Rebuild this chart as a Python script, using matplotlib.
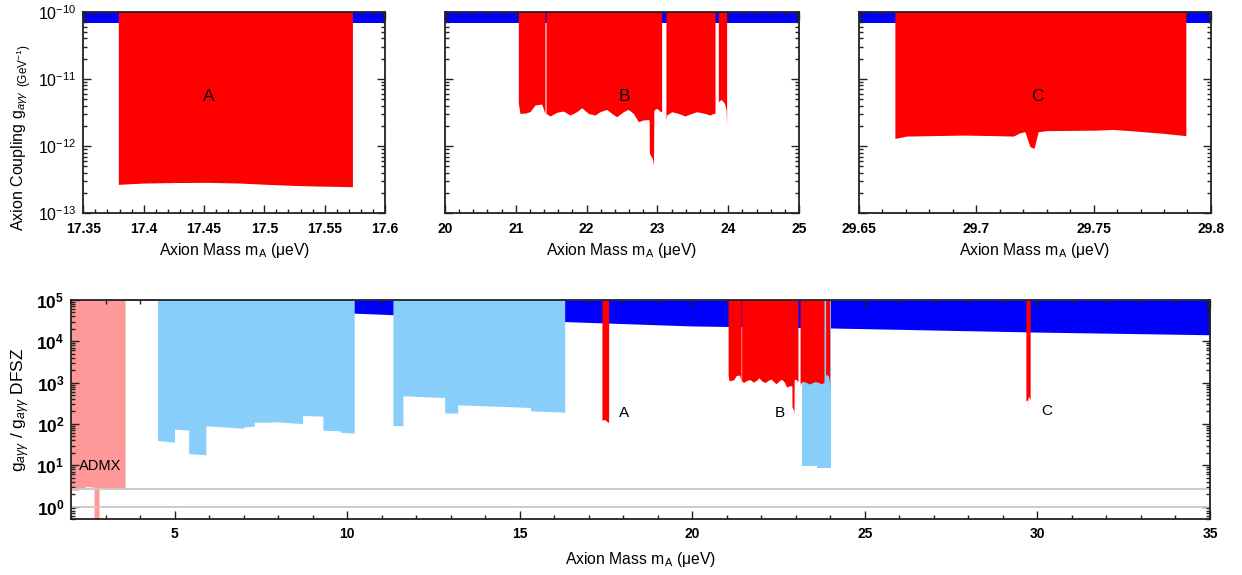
import numpy as np
import matplotlib
matplotlib.use("Agg")
import matplotlib.pyplot as plt
from matplotlib.ticker import MultipleLocator, LogLocator, NullFormatter, FuncFormatter

plt.rcParams['font.family'] = ['Liberation Sans', 'DejaVu Sans']
plt.rcParams['mathtext.fontset'] = 'custom'
plt.rcParams['mathtext.rm'] = 'Liberation Sans'
plt.rcParams['mathtext.it'] = 'Liberation Sans:italic'
plt.rcParams['mathtext.bf'] = 'Liberation Sans:bold'

## Daten

# Ausschluss A (g in GeV^-1)
a_mass = [17.379, 17.40, 17.425, 17.452, 17.48, 17.502, 17.525, 17.543, 17.573]
a_lower = [2.70e-13, 2.82e-13, 2.87e-13, 2.89e-13, 2.82e-13, 2.70e-13, 2.60e-13, 2.55e-13, 2.49e-13]

# Ausschluss B, vier Teilstuecke
b1_mass = [21.036, 21.059, 21.13, 21.20, 21.271, 21.365, 21.412]
b1_lower = [4.33e-12, 3.07e-12, 3.10e-12, 3.25e-12, 4.09e-12, 4.23e-12, 3.07e-12]
b2_mass = [21.427, 21.483, 21.577, 21.671, 21.766, 21.860, 21.930, 22.024, 22.119, 22.189,
           22.283, 22.354, 22.425, 22.519, 22.589, 22.660, 22.731, 22.801, 22.872, 22.884,
           22.887, 22.930, 22.945, 22.950, 22.990, 23.046, 23.060]
b2_lower = [3.07e-12, 2.81e-12, 3.18e-12, 3.33e-12, 2.90e-12, 3.25e-12, 3.73e-12, 3.07e-12, 2.90e-12, 3.25e-12,
            3.52e-12, 3.07e-12, 2.74e-12, 3.25e-12, 3.52e-12, 3.07e-12, 2.31e-12, 2.45e-12, 2.50e-12, 2.40e-12,
            7.8e-13, 6.5e-13, 5.2e-13, 3.44e-12, 3.65e-12, 3.25e-12, 3.25e-12]
b3_mass = [23.121, 23.131, 23.202, 23.296, 23.390, 23.484, 23.555, 23.672, 23.743, 23.790, 23.814]
b3_lower = [2.45e-12, 2.90e-12, 3.25e-12, 3.07e-12, 2.81e-12, 3.07e-12, 3.25e-12, 3.07e-12, 2.90e-12, 3.07e-12, 3.07e-12]
b4_mass = [23.861, 23.90, 23.945, 23.970, 23.978]
b4_lower = [4.58e-12, 4.97e-12, 4.40e-12, 3.50e-12, 2.18e-12]

# Ausschluss C
c_mass = [29.6653, 29.6703, 29.6803, 29.6945, 29.7087, 29.7158, 29.7186, 29.7207, 29.7229,
          29.7246, 29.7264, 29.7300, 29.7371, 29.7513, 29.7584, 29.7655, 29.7797, 29.7893]
c_lower = [1.30e-12, 1.41e-12, 1.43e-12, 1.46e-12, 1.43e-12, 1.41e-12, 1.58e-12, 1.64e-12, 9.8e-13,
           9.25e-13, 1.64e-12, 1.70e-12, 1.71e-12, 1.73e-12, 1.77e-12, 1.70e-12, 1.55e-12, 1.43e-12]

# CAST-Grenze (blau)
cast_limit = 6.7e-11
cast_mass = [2.0, 5.0, 10.2, 16.3, 20.0, 24.0, 30.0, 35.0]
cast_ratio = [2.6e5, 1.0e5, 4.8e4, 3.0e4, 2.35e4, 2.1e4, 1.67e4, 1.44e4]

# ADMX (rosa), als g / g_DFSZ
admx_mass = [2.0, 2.156, 2.446, 2.659, 2.660, 2.804, 2.805, 3.22, 3.558]
admx_lower = [2.54, 2.44, 3.05, 2.94, 0.5, 0.5, 2.90, 2.68, 2.63]

# weitere Haloskope (hellblau), als g / g_DFSZ
lb1_mass = [4.50, 4.99, 4.99, 5.40, 5.40, 5.90, 5.90, 6.99, 7.00, 7.30, 7.30, 7.82, 7.82, 8.70, 8.70, 9.29, 9.29, 9.80, 9.80, 10.20]
lb1_lower = [39.6, 36.2, 74.8, 70.8, 19.2, 17.9, 90, 79, 84, 88, 110, 110, 114, 102, 160, 154, 70.8, 68, 63, 59.8]
lb2_mass = [11.32, 11.61, 11.61, 12.82, 12.82, 13.20, 13.20, 15.31, 15.31, 16.30]
lb2_lower = [91, 91, 479, 436, 183, 183, 290, 250, 207, 193]
lb3_mass = [23.175, 23.60, 23.60, 24.017]
lb3_lower = [9.7, 9.7, 8.5, 8.5]

# Modelllinien (grau)
ref_lines = [1.0, 2.7]

# g_DFSZ pro ueV, fuer Umrechnung in das Verhaeltnis
g_dfsz_per_ueV = 1.3e-16

red = "#ff0000"
blue = "#0000ff"
lightblue = "#87cefa"
pink = "#ff9999"

top_ylim = (1e-13, 1e-10)
bot_ylim = (0.5, 1e5)


## Figur

fig = plt.figure(figsize=(12.42, 5.75), dpi=100)

ax_a = fig.add_axes([0.0671, 0.6290, 0.2429, 0.3506])
ax_b = fig.add_axes([0.3583, 0.6290, 0.2850, 0.3506])
ax_c = fig.add_axes([0.6916, 0.6290, 0.2834, 0.3506])
ax_bot = fig.add_axes([0.0574, 0.0974, 0.9168, 0.3809])


def style(ax, major, minor, ylabels=True, ybold=False, ysize=12.5):
    ax.set_yscale("log")
    ax.xaxis.set_major_locator(MultipleLocator(major))
    ax.xaxis.set_minor_locator(MultipleLocator(minor))
    ax.xaxis.set_major_formatter(FuncFormatter(lambda v, p: "%g" % round(v, 4)))
    ax.yaxis.set_major_locator(LogLocator(base=10, numticks=20))
    ax.yaxis.set_minor_locator(LogLocator(base=10, subs=np.arange(2, 10), numticks=20))
    ax.yaxis.set_minor_formatter(NullFormatter())
    ax.tick_params(which="both", direction="in", top=True, right=True, width=1.0, color="#222222")
    ax.tick_params(which="major", length=6)
    ax.tick_params(which="minor", length=3)
    ax.tick_params(axis="x", labelsize=10, pad=6)
    ax.tick_params(axis="y", labelsize=ysize, pad=5)
    if not ylabels:
        ax.yaxis.set_major_formatter(NullFormatter())
    elif ybold:
        ax.yaxis.set_major_formatter(FuncFormatter(lambda v, p: r"$\mathbf{10^{%d}}$" % round(np.log10(v))))
    for s in ax.spines.values():
        s.set_linewidth(1.3)
        s.set_color("#222222")
        s.set_zorder(5)


## Obere Panels

panels = [
    (ax_a, (17.35, 17.6), [(a_mass, a_lower)], "A", 17.454, 0.05, 0.01),
    (ax_b, (20, 25), [(b1_mass, b1_lower), (b2_mass, b2_lower), (b3_mass, b3_lower), (b4_mass, b4_lower)], "B", 22.53, 1, 0.2),
    (ax_c, (29.65, 29.8), [(c_mass, c_lower)], "C", 29.726, 0.05, 0.01),
]

for ax, xlim, segs, name, xl, major, minor in panels:
    ax.fill_between(xlim, cast_limit, top_ylim[1], color=blue, lw=0, zorder=1)
    for m, g in segs:
        ax.fill_between(m, g, top_ylim[1], color=red, lw=0, zorder=2)
    ax.text(xl, 5.4e-12, name, ha="center", va="center", fontsize=12.5, zorder=4)
    style(ax, major, minor, ylabels=(ax is ax_a), ysize=11.5)
    ax.set_xlim(xlim)
    ax.set_ylim(top_ylim)
    ax.set_xlabel(r"Axion Mass m$_\mathregular{A}$ (μeV)", fontsize=11.3, labelpad=4)

# y-Beschriftung oben links (Einheit kleiner)
lab1 = fig.text(0.0190, 0.598, r"Axion Coupling g$_{a\gamma\gamma}$", rotation=90,
                rotation_mode="anchor", ha="left", va="baseline", fontsize=11.5)
fig.canvas.draw()
bb = lab1.get_window_extent().transformed(fig.transFigure.inverted())
fig.text(0.0222, bb.y1 + 0.006, r"(GeV$^{-1}$)", rotation=90,
         rotation_mode="anchor", ha="left", va="baseline", fontsize=8.5)


## Unteres Panel

ax_bot.fill_between(cast_mass, cast_ratio, bot_ylim[1], color=blue, lw=0, zorder=1)
ax_bot.fill_between(admx_mass, admx_lower, bot_ylim[1], color=pink, lw=0, zorder=1)
for m, r in [(lb1_mass, lb1_lower), (lb2_mass, lb2_lower), (lb3_mass, lb3_lower)]:
    ax_bot.fill_between(m, r, bot_ylim[1], color=lightblue, lw=0, zorder=2)

for m, g in [(a_mass, a_lower), (b1_mass, b1_lower), (b2_mass, b2_lower),
             (b3_mass, b3_lower), (b4_mass, b4_lower), (c_mass, c_lower)]:
    m = np.asarray(m)
    ratio = np.asarray(g) / (g_dfsz_per_ueV * m)
    ax_bot.fill_between(m, ratio, bot_ylim[1], color=red, lw=0, zorder=3)

for yv in ref_lines:
    ax_bot.axhline(yv, color="#c8c8c8", lw=1.3, zorder=4)

ax_bot.text(18.02, 189, "A", ha="center", va="center", fontsize=11, zorder=5)
ax_bot.text(22.52, 189, "B", ha="center", va="center", fontsize=11, zorder=5)
ax_bot.text(30.26, 200, "C", ha="center", va="center", fontsize=11, zorder=5)
ax_bot.text(2.85, 9.6, "ADMX", ha="center", va="center", fontsize=10.5, zorder=5)

style(ax_bot, 5, 1, ybold=True)
ax_bot.set_xlim(2, 35)
ax_bot.set_ylim(bot_ylim)
ax_bot.set_xlabel(r"Axion Mass m$_\mathregular{A}$ (μeV)", fontsize=11.3, labelpad=6)
ax_bot.set_ylabel(r"g$_{a\gamma\gamma}$ / g$_{a\gamma\gamma}$ DFSZ", fontsize=12.5, labelpad=3)

for ax in [ax_a, ax_b, ax_c, ax_bot]:
    for t in ax.get_xticklabels():
        t.set_fontweight("bold")

fig.savefig("out.png", dpi=100)
